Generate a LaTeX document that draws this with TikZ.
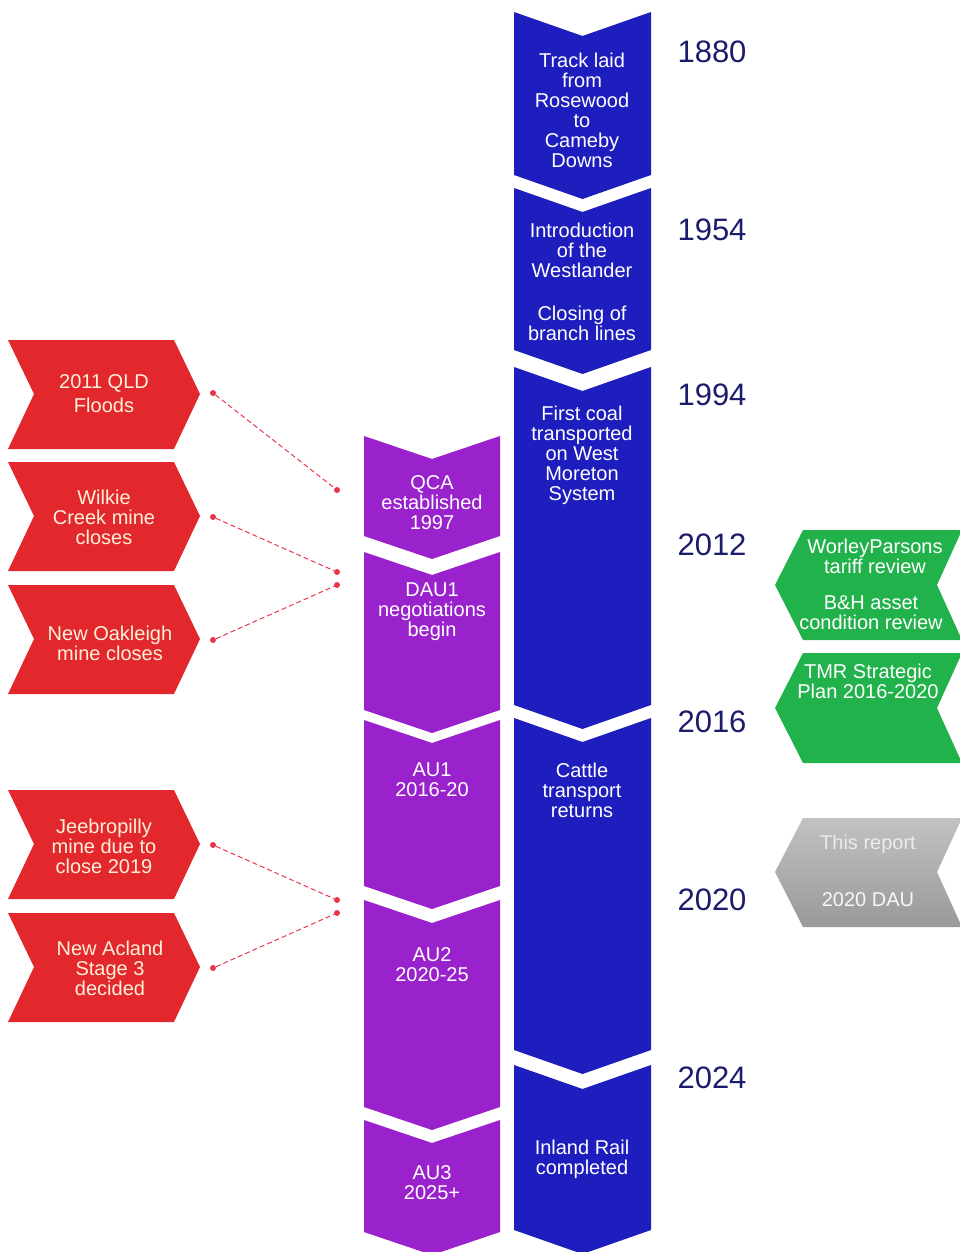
\documentclass[tikz,border=0pt]{standalone}
\usepackage{fontspec}
\setmainfont{Liberation Sans}
\definecolor{railblue}{HTML}{1E1EBE}
\definecolor{regpurple}{HTML}{9A22CC}
\definecolor{eventred}{HTML}{E2282C}
\definecolor{reviewgreen}{HTML}{22B24C}
\definecolor{yearnavy}{HTML}{1C1C6C}
\definecolor{linkpink}{HTML}{E8354A}
\definecolor{creamtext}{HTML}{FFF0DC}

\tikzset{
  boxtext/.style={align=center, inner sep=0pt, font=\fontsize{20}{20}\selectfont},
  railtext/.style={boxtext, text=white},
  eventtext/.style={boxtext, text=creamtext},
  yearlabel/.style={text=yearnavy, font=\fontsize{31}{31}\selectfont},
  reddot/.style={circle, fill=linkpink, inner sep=0pt, minimum size=6pt},
  linkline/.style={linkpink, line width=1pt, dash pattern=on 5pt off 3pt}
}

\begin{document}
\begin{tikzpicture}[x=1pt, y=-1pt]
\useasboundingbox (0,0) rectangle (960,1252);

%--- Blue rail column (chevrons pointing down)
\foreach \t/\b in {12/175, 188/350, 367/705, 718/1050, 1065/1230} {
  \fill[railblue] (514,\t) -- (582.5,\t+24) -- (651,\t) -- (651,\b) -- (582.5,\b+24) -- (514,\b) -- cycle;
}

%--- Purple regulatory column
\foreach \t/\b in {436/536, 552/710, 720/886, 900/1107, 1120/1232} {
  \fill[regpurple] (364,\t) -- (432,\t+23) -- (500,\t) -- (500,\b) -- (432,\b+23) -- (364,\b) -- cycle;
}

%--- Red event arrows (pointing right)
\foreach \t in {340, 462, 585, 790, 913} {
  \fill[eventred] (8,\t) -- (174,\t) -- (200,\t+54) -- (174,\t+109) -- (8,\t+109) -- (34,\t+54) -- cycle;
}

%--- Green review arrows (pointing left)
\foreach \t in {530, 653} {
  \fill[reviewgreen] (803,\t) -- (962,\t) -- (937,\t+55) -- (962,\t+110) -- (803,\t+110) -- (775,\t+55) -- cycle;
}

%--- Grey report arrow
\shade[top color=black!24, middle color=black!30, bottom color=black!40] (803,818) -- (962,818) -- (937,872) -- (962,927) -- (803,927) -- (775,872) -- cycle;

%=== YEARS ===
\node[yearlabel] (y1880) at (712,52)   {1880};
\node[yearlabel] (y1954) at (712,230)  {1954};
\node[yearlabel] (y1994) at (712,395)  {1994};
\node[yearlabel] (y2012) at (712,545)  {2012};
\node[yearlabel] (y2016) at (712,722)  {2016};
\node[yearlabel] (y2020) at (712,900)  {2020};
\node[yearlabel] (y2024) at (712,1078) {2024};

%=== RAIL EVENTS (blue) ===
\node[railtext] (track)   at (582,110)  {Track laid\\from\\Rosewood\\to\\Cameby\\Downs};
\node[railtext] (westl)   at (582,250)  {Introduction\\of the\\Westlander};
\node[railtext] (branch)  at (582,323)  {Closing of\\branch lines};
\node[railtext] (coal)    at (582,455)  {First coal\\transported\\on West\\Moreton\\System};
\node[railtext] (cattle)  at (582,790)  {Cattle\\transport\\returns};
\node[railtext] (inland)  at (582,1159) {Inland Rail\\completed};

%=== REGULATION (purple) ===
\node[railtext] (qca)  at (432,503)  {QCA\\established\\1997};
\node[railtext] (dau1) at (432,612)  {DAU1\\negotiations\\begin};
\node[railtext] (au1)  at (432,780)  {AU1\\2016-20};
\node[railtext] (au2)  at (432,965)  {AU2\\2020-25};
\node[railtext] (au3)  at (432,1183) {AU3\\2025+};

%=== EXTERNAL EVENTS (red) ===
\node[eventtext, font=\fontsize{20}{24}\selectfont] (floods) at (104,394) {2011 QLD\\Floods};
\node[eventtext] (wilkie)   at (104,517) {Wilkie\\Creek mine\\closes};
\node[eventtext] (oakleigh) at (110,643) {New Oakleigh\\mine closes};
\node[eventtext] (jeebro)   at (104,846) {Jeebropilly\\mine due to\\close 2019};
\node[eventtext] (acland)   at (110,968) {New Acland\\Stage 3\\decided};

%=== REVIEWS (green / grey) ===
\node[railtext] (worley)  at (875,556) {WorleyParsons\\tariff review};
\node[railtext] (bandh)   at (871,613) {B\&H asset\\condition review};
\node[railtext] (tmr)     at (868,681) {TMR Strategic\\Plan 2016-2020};
\node[boxtext, text=black!8] (thisrep) at (868,844) {This report};
\node[boxtext, text=black!3] (dau2020) at (868,900) {2020 DAU};

%--- Dotted links from red events to the purple column
\node[reddot] (floodsrc) at (213,393) {};
\node[reddot] (floodtgt) at (337,490) {};
\node[reddot] (wilksrc)  at (213,517) {};
\node[reddot] (wilktgt)  at (337,572) {};
\node[reddot] (oaksrc)   at (213,640) {};
\node[reddot] (oaktgt)   at (337,585) {};
\node[reddot] (jeesrc)   at (213,845) {};
\node[reddot] (jeetgt)   at (337,900) {};
\node[reddot] (aclsrc)   at (213,968) {};
\node[reddot] (acltgt)   at (337,913) {};
\draw[linkline] (floodsrc) -- (floodtgt);
\draw[linkline] (wilksrc) -- (wilktgt);
\draw[linkline] (oaksrc) -- (oaktgt);
\draw[linkline] (jeesrc) -- (jeetgt);
\draw[linkline] (aclsrc) -- (acltgt);

\end{tikzpicture}
\end{document}
